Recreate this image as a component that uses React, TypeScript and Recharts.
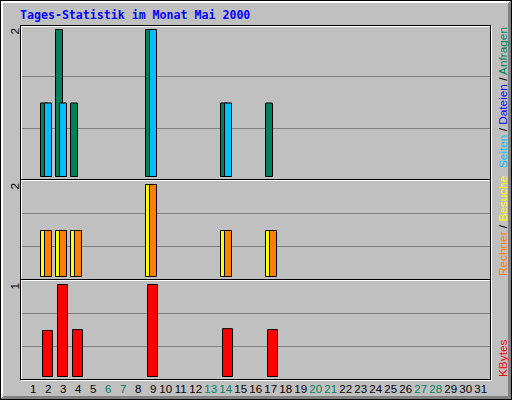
import { Bar, BarChart, CartesianGrid, XAxis, YAxis } from 'recharts'

const days = [
  1, 2, 3, 4, 5, 6, 7, 8, 9, 10, 11, 12, 13, 14, 15, 16, 17, 18, 19, 20, 21, 22, 23, 24, 25, 26,
  27, 28, 29, 30, 31,
]
const weekendDays = [6, 7, 13, 14, 20, 21, 27, 28]

const anfragen = [0, 1, 2, 1, 0, 0, 0, 0, 2, 0, 0, 0, 0, 1, 0, 0, 1, 0, 0, 0, 0, 0, 0, 0, 0, 0, 0, 0, 0, 0, 0]
const seiten = [0, 1, 1, 0, 0, 0, 0, 0, 2, 0, 0, 0, 0, 1, 0, 0, 0, 0, 0, 0, 0, 0, 0, 0, 0, 0, 0, 0, 0, 0, 0]
const besuche = [0, 1, 1, 1, 0, 0, 0, 0, 2, 0, 0, 0, 0, 1, 0, 0, 1, 0, 0, 0, 0, 0, 0, 0, 0, 0, 0, 0, 0, 0, 0]
const rechner = [0, 1, 1, 1, 0, 0, 0, 0, 2, 0, 0, 0, 0, 1, 0, 0, 1, 0, 0, 0, 0, 0, 0, 0, 0, 0, 0, 0, 0, 0, 0]
const kbytes = [
  0, 0.5, 1, 0.51, 0, 0, 0, 0, 1, 0, 0, 0, 0, 0.52, 0, 0, 0.51, 0, 0, 0, 0, 0, 0, 0, 0, 0, 0, 0, 0, 0, 0,
]

const GREEN = '#00805C'
const BLUE = '#0000FF'
const CYAN = '#00C0FF'
const YELLOW = '#FFFF00'
const ORANGE = '#FF8000'
const RED = '#FF0000'
const GREY = '#C0C0C0'
const DKGREY = '#808080'
const LABEL_FONT = '"Liberation Sans", Arial, sans-serif'

const data = days.map((day, i) => ({
  day,
  anfragen: anfragen[i],
  seiten: seiten[i],
  besuche: besuche[i],
  rechner: rechner[i],
  kbytes: kbytes[i],
}))

const maxHits = Math.max(...anfragen)
const maxVisits = Math.max(...besuche, ...rechner)
const maxKB = Math.max(...kbytes)

// rotated max-value label at the top left of each panel
const MaxTick = (props: any) => {
  const { x, y, payload } = props
  const tx = x - 2.5
  const ty = y - 1.5
  return (
    <text
      x={tx}
      y={ty}
      transform={`rotate(-90 ${tx} ${ty})`}
      textAnchor="end"
      fontFamily={LABEL_FONT}
      fontSize={11.8}
      fill="#000"
    >
      {Math.round(payload.value)}
    </text>
  )
}

const DayTick = (props: any) => {
  const { x, y, payload } = props
  const day = payload.value
  return (
    <text
      x={x + (day < 10 ? 1.3 : -1.3)}
      y={y + 13}
      textAnchor="middle"
      fontFamily={LABEL_FONT}
      fontSize={11.5}
      fill={weekendDays.includes(day) ? GREEN : '#000'}
    >
      {day}
    </text>
  )
}

const gridPoints = (h: number) => [Math.floor(h / 3) + 0.5, Math.floor((2 * h) / 3) + 0.5]

const yAxisProps = {
  width: 21.5,
  axisLine: false,
  tickLine: false,
  tickSize: 0,
  tickMargin: 0,
  interval: 0 as const,
  padding: { top: 4.5, bottom: 3.5 },
  tick: <MaxTick />,
}

const margin = { top: 0, right: 21.5, bottom: 0, left: 0 }

export default function App() {
  return (
    <div style={{ position: 'fixed', left: 0, top: 0, width: 512, height: 400, background: GREY }}>
      <div style={{ position: 'absolute', left: 0, top: 25 }}>
        <BarChart width={512} height={155} data={data} margin={margin} barSize={7} barGap={-3}>
          <CartesianGrid vertical={false} stroke={DKGREY} horizontalPoints={gridPoints(155)} />
          <XAxis dataKey="day" hide padding={{ left: 2, right: 2 }} />
          <YAxis {...yAxisProps} domain={[0, maxHits]} ticks={[maxHits]} />
          <Bar dataKey="anfragen" fill={GREEN} stroke="#000" isAnimationActive={false} />
          <Bar dataKey="seiten" fill={CYAN} stroke="#000" isAnimationActive={false} />
        </BarChart>
      </div>
      <div style={{ position: 'absolute', left: 0, top: 180 }}>
        <BarChart width={512} height={100} data={data} margin={margin} barSize={7} barGap={-3}>
          <CartesianGrid vertical={false} stroke={DKGREY} horizontalPoints={gridPoints(100)} />
          <XAxis dataKey="day" hide padding={{ left: 2, right: 2 }} />
          <YAxis {...yAxisProps} domain={[0, maxVisits]} ticks={[maxVisits]} />
          <Bar dataKey="besuche" fill={YELLOW} stroke="#000" isAnimationActive={false} />
          <Bar dataKey="rechner" fill={ORANGE} stroke="#000" isAnimationActive={false} />
        </BarChart>
      </div>
      <div style={{ position: 'absolute', left: 0, top: 280 }}>
        <BarChart width={512} height={120} data={data} margin={margin} barSize={10}>
          <CartesianGrid vertical={false} stroke={DKGREY} horizontalPoints={gridPoints(100)} />
          <XAxis
            dataKey="day"
            interval={0}
            height={20}
            axisLine={false}
            tickLine={false}
            tickSize={0}
            tickMargin={0}
            padding={{ left: 3, right: 1 }}
            tick={<DayTick />}
          />
          <YAxis {...yAxisProps} domain={[0, maxKB]} ticks={[maxKB]} />
          <Bar dataKey="kbytes" fill={RED} stroke="#000" isAnimationActive={false} />
        </BarChart>
      </div>

      <svg
        width={512}
        height={400}
        style={{ position: 'absolute', left: 0, top: 0, pointerEvents: 'none' }}
        shapeRendering="crispEdges"
      >
        {/* outer bevel */}
        <rect x={0.5} y={0.5} width={511} height={399} fill="none" stroke="#000" />
        <path d="M1 1.5H510M1 2.5H509M1.5 1V398M2.5 1V397" stroke="#fff" />
        <path d="M508.5 3V397M509.5 2V398M510.5 1V399M3 396.5H511M2 397.5H511M1 398.5H511" stroke={DKGREY} />

        {/* plot frame and panel separators */}
        <rect x={21.5} y={26.5} width={470} height={354} fill="none" stroke="#fff" />
        <rect x={20.5} y={25.5} width={470} height={354} fill="none" stroke="#000" />
        <path d="M20 179.5H491M20 279.5H491" stroke="#000" />
        <path d="M21 180.5H490M21 280.5H490" stroke="#fff" />

        <text
          x={20}
          y={19}
          fontFamily='"DejaVu Sans Mono", monospace'
          fontWeight="bold"
          fontSize={11.6}
          fill={BLUE}
        >
          Tages-Statistik im Monat Mai 2000
        </text>

        <g fontFamily={LABEL_FONT} fontSize={11.8} style={{ whiteSpace: 'pre' }}>
          <text x={507} y={27} transform="rotate(-90 507 27)" textAnchor="end">
            <tspan fill={CYAN}>Seiten</tspan>
            <tspan fill="#000"> / </tspan>
            <tspan fill={BLUE}>Dateien</tspan>
            <tspan fill="#000"> / </tspan>
            <tspan fill={GREEN}>Anfragen</tspan>
          </text>
          <text x={507} y={276} transform="rotate(-90 507 276)" textAnchor="start">
            <tspan fill={ORANGE}>Rechner</tspan>
            <tspan fill="#000"> / </tspan>
            <tspan fill={YELLOW}>Besuche</tspan>
          </text>
          <text x={507} y={377} transform="rotate(-90 507 377)" textAnchor="start" fill={RED}>
            KBytes
          </text>
        </g>
      </svg>
    </div>
  )
}
